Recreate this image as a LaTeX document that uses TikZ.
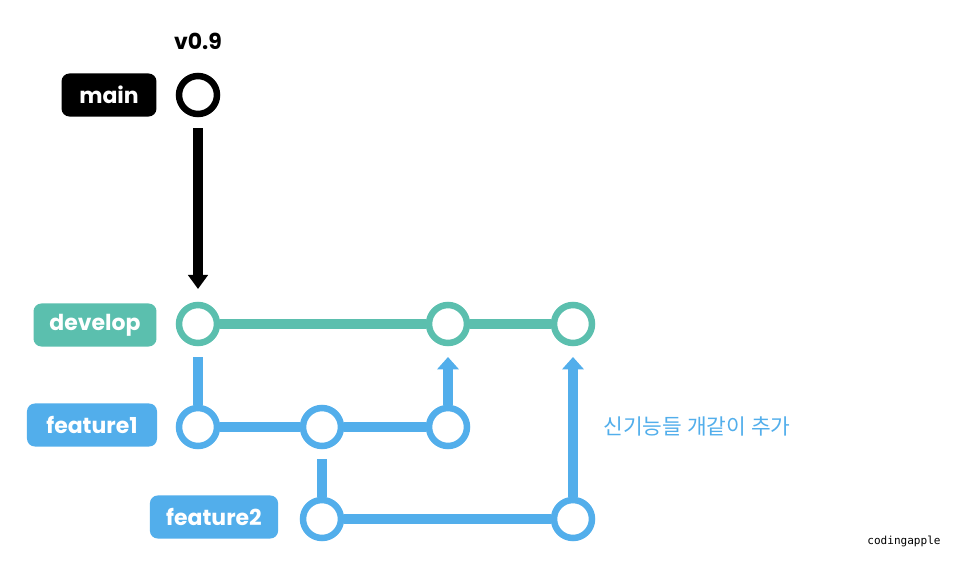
\documentclass[tikz,border=0pt]{standalone}
\usepackage{fontspec}
\setmainfont{Poppins}
\newfontfamily\kofont{Noto Sans CJK KR}
\newfontfamily\codefont{DejaVu Sans Mono}
\usetikzlibrary{arrows.meta}

\definecolor{devgreen}{HTML}{5BBFAE}
\definecolor{featblue}{HTML}{52AEEB}

\tikzset{
  commit/.style={circle, draw=#1, fill=white, line width=3.7pt, minimum size=0.76cm, inner sep=0pt},
  branchtag/.style={rounded corners=4.5pt, fill=#1, text=white, font=\bfseries\fontsize{12.5}{14}\selectfont,
    minimum height=24.5pt, inner sep=0pt},
  link/.style={line width=5.7pt, draw=#1},
  uparrow/.style={link=#1, -{Triangle[width=12pt, length=7pt]}},
}

\begin{document}
\begin{tikzpicture}[x=0.02cm, y=-0.02cm]
  \useasboundingbox (0,0) rectangle (954,561);

  % main
  \node [branchtag=black, minimum width=54pt] at (109, 95) (mainlbl) {main};
  \node [commit=black] at (198, 95) (m1) {};
  \node [font=\bfseries\fontsize{12.5}{14}\selectfont] at (198, 41) (tag) {v0.9};

  % develop
  \node [branchtag=devgreen, minimum width=70pt] at (95, 325) (devlbl) {develop};
  \node [commit=devgreen] at (198, 324) (d1) {};
  \node [commit=devgreen] at (448, 324) (d2) {};
  \node [commit=devgreen] at (573, 324) (d3) {};

  % feature1
  \node [branchtag=featblue, minimum width=74pt] at (92, 425) (f1lbl) {feature1};
  \node [commit=featblue] at (198, 427) (f1a) {};
  \node [commit=featblue] at (322, 427) (f1b) {};
  \node [commit=featblue] at (448, 427) (f1c) {};

  % feature2
  \node [branchtag=featblue, minimum width=73pt] at (214, 517) (f2lbl) {feature2};
  \node [commit=featblue] at (322, 519) (f2a) {};
  \node [commit=featblue] at (573, 519) (f2b) {};

  % free ends
  \coordinate (mdown) at (198, 128);
  \coordinate (mtip) at (198, 289);
  \coordinate (f1start) at (198, 357);
  \coordinate (f2start) at (322, 459);
  \coordinate (f1tip) at (448, 357);
  \coordinate (f2tip) at (573, 357);

  \draw [link=black, -{Triangle[width=11pt, length=8pt]}] (mdown) -- (mtip);
  \draw [link=devgreen] (d1) -- (d2) -- (d3);
  \draw [link=featblue] (f1start) -- (f1a);
  \draw [link=featblue] (f1a) -- (f1b) -- (f1c);
  \draw [link=featblue] (f2start) -- (f2a);
  \draw [link=featblue] (f2a) -- (f2b);
  \draw [uparrow=featblue] (f1c) -- (f1tip);
  \draw [uparrow=featblue] (f2b) -- (f2tip);

  \node [text=featblue, font=\kofont\fontsize{12.2}{14}\selectfont] at (697, 426) (note) {신기능들 개같이 추가};
  \node [font=\codefont\fontsize{6.3}{7}\selectfont] at (904, 541) (credit) {codingapple};
\end{tikzpicture}
\end{document}
